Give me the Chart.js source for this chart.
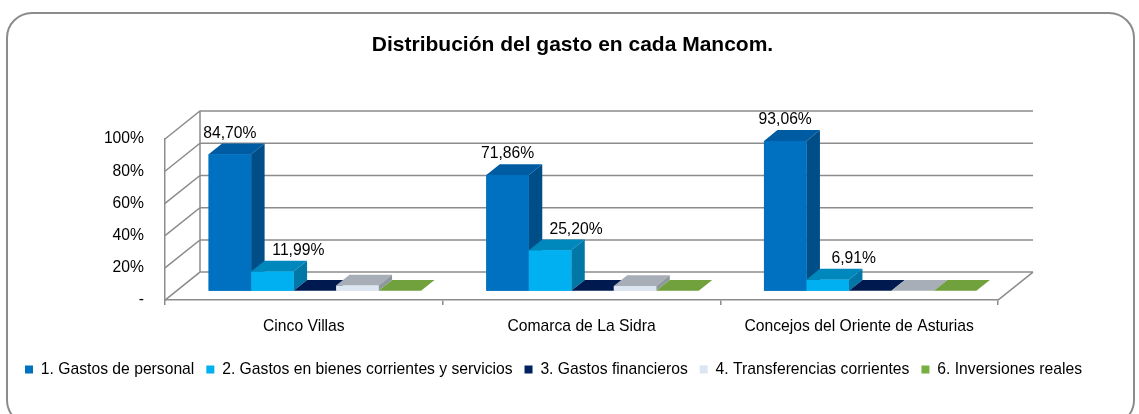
<!DOCTYPE html>
<html lang="es">
<head>
<meta charset="UTF-8">
<title>Distribución del gasto en cada Mancom.</title>
<script src="https://cdn.jsdelivr.net/npm/chart.js"></script>
<style>
  body { margin: 0; background: #fff; }
  canvas { display: block; }
</style>
</head>
<body>
<canvas id="chart" width="1139" height="414"></canvas>
<script>
// --- data ---
const categories = ['Cinco Villas', 'Comarca de La Sidra', 'Concejos del Oriente de Asturias'];
const seriesNames = [
    '1. Gastos de personal',
    '2. Gastos en bienes corrientes y servicios',
    '3. Gastos financieros',
    '4. Transferencias corrientes',
    '6. Inversiones reales'
];
const gastosPersonal = [84.70, 71.86, 93.06];
const bienesServicios = [11.99, 25.20, 6.91];
const gastosFinancieros = [0, 0, 0];
const transferencias = [3.31, 2.94, 0.03];
const inversiones = [0, 0, 0];
const yTicks = [0, 20, 40, 60, 80, 100];
const labelledSeries = [0, 1];

// --- look ---
const frontColors = ['#0070C0', '#00B0F0', '#002060', '#DCE6F2', '#76B043'];
const topColors   = ['#005CA2', '#0088BD', '#001A50', '#A7AEB7', '#71A13D'];
const sideColors  = ['#004E88', '#0077A6', '#001442', '#8F979F', '#5E8732'];
const labelOffsets = [0, 26];

const FONT = "'Liberation Sans', Arial, sans-serif";
const FS = 15.7;
const LINE = '#8c8c8c';
const WALL_DX = 35, WALL_DY = 28;      // depth of walls / floor
const SHIFT_X = 11, SHIFT_Y = 9.3;     // bars sit a bit behind the front plane
const BAR_DX = 13.5, BAR_DY = 10.8;    // depth of each bar

const fmt = v => v.toFixed(2).replace('.', ',') + '%';

const frame = {
    id: 'frame',
    beforeDraw(chart) {
        const ctx = chart.ctx;
        ctx.save();
        ctx.fillStyle = '#fff';
        ctx.fillRect(0, 0, chart.width, chart.height);
        ctx.strokeStyle = LINE;
        ctx.lineWidth = 2;
        ctx.beginPath();
        ctx.roundRect(7, 13, 1127, 412, 25);
        ctx.stroke();
        ctx.restore();
    }
};

const box3d = {
    id: 'box3d',
    beforeDatasetsDraw(chart) {
        const {ctx, chartArea: a, scales: {y}} = chart;
        ctx.save();
        ctx.strokeStyle = LINE;
        ctx.lineWidth = 1.5;
        ctx.beginPath();
        yTicks.forEach(v => {
            const py = y.getPixelForValue(v);
            ctx.moveTo(a.left, py);
            ctx.lineTo(a.left + WALL_DX, py - WALL_DY);
            ctx.lineTo(a.right + WALL_DX, py - WALL_DY);
        });
        ctx.moveTo(a.left + WALL_DX, a.top - WALL_DY);
        ctx.lineTo(a.left + WALL_DX, a.bottom - WALL_DY);
        ctx.moveTo(a.right, a.bottom);
        ctx.lineTo(a.right + WALL_DX, a.bottom - WALL_DY);
        ctx.stroke();
        ctx.restore();

        ctx.save();
        ctx.translate(SHIFT_X, -SHIFT_Y);
    },
    afterDatasetsDraw(chart) {
        const ctx = chart.ctx;
        chart.data.datasets.forEach((ds, i) => {
            chart.getDatasetMeta(i).data.forEach(el => {
                const {x, y, base, width} = el.getProps(['x', 'y', 'base', 'width'], true);
                const l = x - width / 2, r = x + width / 2, top = Math.min(y, base);
                ctx.fillStyle = topColors[i];
                ctx.beginPath();
                ctx.moveTo(l, top);
                ctx.lineTo(r, top);
                ctx.lineTo(r + BAR_DX, top - BAR_DY);
                ctx.lineTo(l + BAR_DX, top - BAR_DY);
                ctx.closePath();
                ctx.fill();
                if (base - top > 0.3) {
                    ctx.fillStyle = sideColors[i];
                    ctx.beginPath();
                    ctx.moveTo(r, top);
                    ctx.lineTo(r + BAR_DX, top - BAR_DY);
                    ctx.lineTo(r + BAR_DX, base - BAR_DY);
                    ctx.lineTo(r, base);
                    ctx.closePath();
                    ctx.fill();
                    el.draw(ctx);
                }
            });
        });

        ctx.fillStyle = '#000';
        ctx.font = FS + 'px ' + FONT;
        ctx.textAlign = 'center';
        ctx.textBaseline = 'middle';
        labelledSeries.forEach(i => {
            const values = chart.data.datasets[i].data;
            chart.getDatasetMeta(i).data.forEach((el, j) => {
                const {x, y} = el.getProps(['x', 'y'], true);
                ctx.fillText(fmt(values[j]), x + labelOffsets[i], y - 21);
            });
        });
        ctx.restore();
    }
};

const allValues = [gastosPersonal, bienesServicios, gastosFinancieros, transferencias, inversiones];

new Chart(document.getElementById('chart'), {
    type: 'bar',
    data: {
        labels: categories,
        datasets: allValues.map((vals, i) => ({
            label: seriesNames[i],
            data: vals,
            backgroundColor: frontColors[i],
            borderWidth: 0,
            clip: false,
            categoryPercentage: 0.765,
            barPercentage: 1
        }))
    },
    options: {
        responsive: false,
        animation: false,
        layout: { padding: { left: 13, right: 7, top: 0, bottom: 26.6 } },
        scales: {
            x: {
                grid: { display: true, drawOnChartArea: false, drawTicks: true, tickLength: 5, color: LINE, lineWidth: 1.5, offset: true },
                border: { display: true, color: LINE, width: 1.5 },
                ticks: { color: '#000', font: { family: FONT, size: FS }, padding: 12.5, maxRotation: 0 },
                afterFit(s) { s.height = 49.6; }
            },
            y: {
                min: 0,
                max: 100,
                grid: { display: false, drawTicks: false },
                border: { display: true, color: LINE, width: 1.5 },
                ticks: {
                    stepSize: 20,
                    padding: 21,
                    color: '#000',
                    font: { family: FONT, size: FS },
                    callback: v => v === 0 ? '-' : v + '%'
                },
                afterFit(s) { s.width = 152; }
            },
            yRight: {
                type: 'linear',
                position: 'right',
                grid: { display: false, drawTicks: false },
                border: { display: false },
                ticks: { display: false },
                afterFit(s) { s.width = 134; }
            }
        },
        plugins: {
            title: {
                display: true,
                text: 'Distribución del gasto en cada Mancom.',
                color: '#000',
                font: { family: FONT, size: 21, weight: 'bold' },
                padding: { top: 32.4, bottom: 81.4 }
            },
            legend: {
                position: 'bottom',
                align: 'start',
                labels: {
                    boxWidth: 8,
                    boxHeight: 8,
                    padding: 12,
                    color: '#000',
                    font: { family: FONT, size: FS }
                }
            },
            tooltip: { enabled: false }
        }
    },
    plugins: [frame, box3d]
});
</script>
</body>
</html>
